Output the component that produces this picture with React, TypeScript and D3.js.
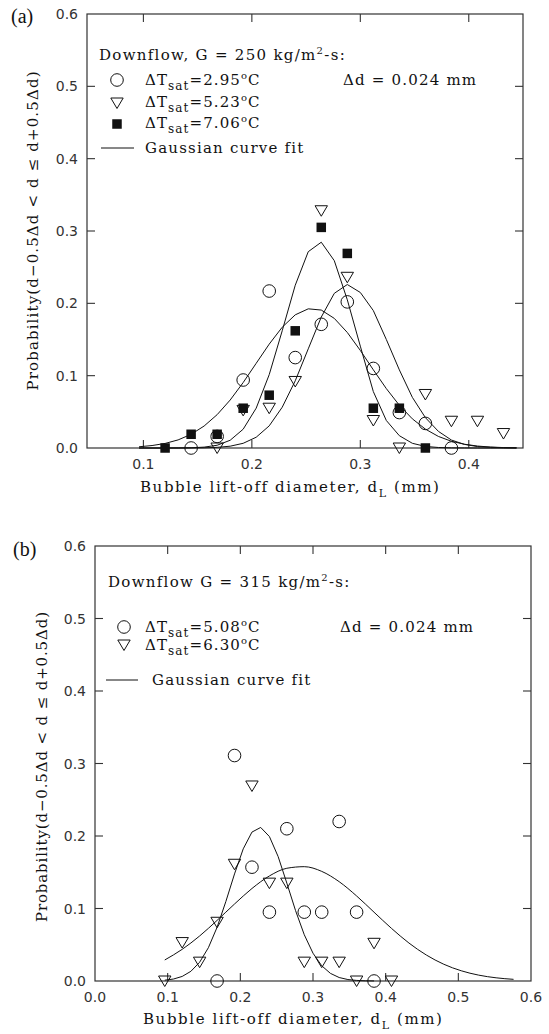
import React from "react";
import * as d3 from "d3";

// ---------- shared axis values ----------
const yTickValues = [0, 0.1, 0.2, 0.3, 0.4, 0.5, 0.6];
const yTickLabels = ["0.0", "0.1", "0.2", "0.3", "0.4", "0.5", "0.6"];

// ---------- panel (a): Downflow, G = 250 kg/m2-s ----------
const aXTickValues = [0.1, 0.2, 0.3, 0.4];
const aXTickLabels = ["0.1", "0.2", "0.3", "0.4"];

const aCircleX = [0.144, 0.168, 0.192, 0.216, 0.240, 0.264, 0.288, 0.312, 0.336, 0.360, 0.384];
const aCircleY = [0.0, 0.016, 0.094, 0.217, 0.125, 0.171, 0.202, 0.110, 0.049, 0.034, 0.0];

const aTriX = [0.168, 0.192, 0.216, 0.240, 0.264, 0.288, 0.312, 0.336, 0.360, 0.384, 0.408, 0.432];
const aTriY = [0.0, 0.052, 0.055, 0.092, 0.328, 0.236, 0.038, 0.0, 0.074, 0.037, 0.037, 0.020];

const aSquareX = [0.120, 0.144, 0.168, 0.192, 0.216, 0.240, 0.264, 0.288, 0.312, 0.336, 0.360];
const aSquareY = [0.0, 0.019, 0.019, 0.055, 0.073, 0.162, 0.305, 0.269, 0.055, 0.055, 0.0];

const aFitX = [0.096, 0.108, 0.120, 0.132, 0.144, 0.156, 0.168, 0.180, 0.192, 0.204, 0.216, 0.228, 0.240, 0.252, 0.264,
  0.276, 0.288, 0.300, 0.312, 0.324, 0.336, 0.348, 0.360, 0.372, 0.384, 0.396, 0.408, 0.420, 0.432, 0.444];
const aFitCircle = [0.0017, 0.0034, 0.0063, 0.0112, 0.0189, 0.0304, 0.0461, 0.0663, 0.0905, 0.1171, 0.1436, 0.1670, 0.1841, 0.1924, 0.1907,
  0.1792, 0.1597, 0.1349, 0.1081, 0.0821, 0.0591, 0.0403, 0.0261, 0.0160, 0.0093, 0.0052, 0.0027, 0.0013, 0.0006, 0.0003];
const aFitSquare = [0, 0, 0, 0.0001, 0.0003, 0.0012, 0.0038, 0.0107, 0.0260, 0.0551, 0.1014, 0.1621, 0.2250, 0.2714, 0.2845,
  0.2590, 0.2049, 0.1408, 0.0780, 0.0380, 0.0170, 0.0065, 0.0022, 0.0007, 0.0002, 0.0001, 0, 0, 0, 0];
const aFitTri = [0, 0, 0, 0, 0.0001, 0.0003, 0.0009, 0.0025, 0.0065, 0.0149, 0.0306, 0.0564, 0.0929, 0.1371, 0.1810,
  0.2138, 0.2260, 0.2150, 0.1900, 0.1500, 0.1080, 0.0700, 0.0420, 0.0230, 0.0110, 0.0050, 0.0020, 0.0010, 0.0004, 0.0001];

// ---------- panel (b): Downflow G = 315 kg/m2-s ----------
const bXTickValues = [0.0, 0.1, 0.2, 0.3, 0.4, 0.5, 0.6];
const bXTickLabels = ["0.0", "0.1", "0.2", "0.3", "0.4", "0.5", "0.6"];

const bCircleX = [0.168, 0.192, 0.216, 0.240, 0.264, 0.288, 0.312, 0.336, 0.360, 0.384];
const bCircleY = [0.0, 0.311, 0.157, 0.095, 0.210, 0.095, 0.095, 0.220, 0.095, 0.0];

const bTriX = [0.096, 0.120, 0.144, 0.168, 0.192, 0.216, 0.240, 0.264, 0.288, 0.312, 0.336, 0.360, 0.384, 0.408];
const bTriY = [0.0, 0.053, 0.026, 0.081, 0.161, 0.269, 0.135, 0.135, 0.026, 0.026, 0.026, 0.0, 0.052, 0.0];

const bFitNarrowX = [0.096, 0.108, 0.120, 0.132, 0.144, 0.156, 0.168, 0.180, 0.192, 0.204, 0.216, 0.228, 0.240,
  0.252, 0.264, 0.276, 0.288, 0.300, 0.312, 0.324, 0.336, 0.348, 0.360, 0.372, 0.384];
const bFitNarrowY = [0.0011, 0.0027, 0.0063, 0.0134, 0.0259, 0.0459, 0.0741, 0.1094, 0.1477, 0.1823, 0.2054, 0.2118, 0.1993,
  0.1717, 0.1350, 0.0971, 0.0638, 0.0383, 0.0210, 0.0105, 0.0048, 0.0020, 0.0008, 0.0003, 0.0001];

const bFitBroadX = [0.096, 0.120, 0.144, 0.168, 0.192, 0.216, 0.240, 0.264, 0.288, 0.312, 0.336, 0.360, 0.384,
  0.408, 0.432, 0.456, 0.480, 0.504, 0.528, 0.552, 0.576];
const bFitBroadY = [0.0290, 0.0437, 0.0621, 0.0836, 0.1062, 0.1276, 0.1449, 0.1555, 0.1577, 0.1512, 0.1370, 0.1173, 0.0949,
  0.0726, 0.0524, 0.0358, 0.0231, 0.0141, 0.0081, 0.0044, 0.0023];

// ---------- styling ----------
const SERIF = "'DejaVu Serif', serif";
const SANS = "'DejaVu Sans', sans-serif";
const TIMES = "'Liberation Serif', 'Times New Roman', serif";
const INK = "#111";
const TICK_LEN = 8;

type Scale = d3.ScaleLinear<number, number>;

function zip(xs: number[], ys: number[]): [number, number][] {
  return xs.map((x, i) => [x, ys[i]]);
}

function Axes(props: {
  x: Scale; y: Scale; xTicks: number[]; xLabels: string[]; yLabelsX: number;
}) {
  const { x, y, xTicks, xLabels } = props;
  const [x0, x1] = x.range();
  const [y0, y1] = y.range(); // y0 bottom, y1 top
  const innerX = xTicks.filter((v) => x(v) > x0 + 2 && x(v) < x1 - 2);
  const innerY = yTickValues.filter((v) => y(v) < y0 - 2 && y(v) > y1 + 2);
  return (
    <g>
      <rect x={x0} y={y1} width={x1 - x0} height={y0 - y1} fill="none" stroke="#333" strokeWidth={1.2} />
      {innerX.map((v, i) => (
        <g key={"xt" + i}>
          <line x1={x(v)} x2={x(v)} y1={y0} y2={y0 - TICK_LEN} stroke="#333" strokeWidth={1.1} />
          <line x1={x(v)} x2={x(v)} y1={y1} y2={y1 + TICK_LEN} stroke="#333" strokeWidth={1.1} />
        </g>
      ))}
      {innerY.map((v, i) => (
        <g key={"yt" + i}>
          <line x1={x0} x2={x0 + TICK_LEN} y1={y(v)} y2={y(v)} stroke="#333" strokeWidth={1.1} />
          <line x1={x1} x2={x1 - TICK_LEN} y1={y(v)} y2={y(v)} stroke="#333" strokeWidth={1.1} />
        </g>
      ))}
      {xTicks.map((v, i) => (
        <text key={"xl" + i} x={x(v)} y={y0 + 21} textAnchor="middle" fontFamily={SANS} fontSize={14} fill="#333">
          {xLabels[i]}
        </text>
      ))}
      {yTickValues.map((v, i) => (
        <text key={"yl" + i} x={props.yLabelsX} y={y(v)} dy="0.36em" textAnchor="end" fontFamily={SANS} fontSize={14} fill="#333">
          {yTickLabels[i]}
        </text>
      ))}
    </g>
  );
}

function Circles({ x, y, xs, ys }: { x: Scale; y: Scale; xs: number[]; ys: number[] }) {
  return (
    <g>
      {xs.map((v, i) => (
        <circle key={i} cx={x(v)} cy={y(ys[i])} r={6.3} fill="none" stroke={INK} strokeWidth={1} />
      ))}
    </g>
  );
}

function triPath(cx: number, cy: number) {
  return `M${cx - 6.2},${cy - 5} L${cx + 6.2},${cy - 5} L${cx},${cy + 5.5} Z`;
}

function Triangles({ x, y, xs, ys }: { x: Scale; y: Scale; xs: number[]; ys: number[] }) {
  return (
    <g>
      {xs.map((v, i) => (
        <path key={i} d={triPath(x(v), y(ys[i]))} fill="none" stroke={INK} strokeWidth={1} />
      ))}
    </g>
  );
}

function Squares({ x, y, xs, ys }: { x: Scale; y: Scale; xs: number[]; ys: number[] }) {
  const s = 9.5;
  return (
    <g>
      {xs.map((v, i) => (
        <rect key={i} x={x(v) - s / 2} y={y(ys[i]) - s / 2} width={s} height={s} fill={INK} />
      ))}
    </g>
  );
}

function Curve({ x, y, xs, ys, smooth }: { x: Scale; y: Scale; xs: number[]; ys: number[]; smooth?: boolean }) {
  const line = d3
    .line<[number, number]>()
    .x((d) => x(d[0]))
    .y((d) => y(d[1]))
    .curve(smooth ? d3.curveMonotoneX : d3.curveLinear);
  return <path d={line(zip(xs, ys)) || ""} fill="none" stroke={INK} strokeWidth={1} />;
}

function DeltaT({ x, y, value }: { x: number; y: number; value: string }) {
  return (
    <text x={x} y={y} fontFamily={SERIF} fontSize={15} letterSpacing={1.1} fill={INK}>
      ΔT
      <tspan dy={5} fontSize={12}>sat</tspan>
      <tspan dy={-5}>={value}</tspan>
      <tspan dy={-6} fontSize={10}>o</tspan>
      <tspan dy={6}>C</tspan>
    </text>
  );
}

function Header({ x, y, text, g }: { x: number; y: number; text: string; g: string }) {
  return (
    <text x={x} y={y} fontFamily={SERIF} fontSize={15} letterSpacing={1.3} fill={INK}>
      {text} G = {g} kg/m
      <tspan dy={-6} fontSize={10}>2</tspan>
      <tspan dy={6}>-s:</tspan>
    </text>
  );
}

function XLabel({ x, y }: { x: number; y: number }) {
  return (
    <text x={x} y={y} fontFamily={SERIF} fontSize={15} letterSpacing={1.6} fill={INK}>
      Bubble lift-off diameter, d
      <tspan dy={5} fontSize={11}>L</tspan>
      <tspan dy={-5}> (mm)</tspan>
    </text>
  );
}

function YLabel({ x, y, len }: { x: number; y: number; len: number }) {
  return (
    <text
      transform={`translate(${x},${y}) rotate(-90)`}
      textAnchor="middle"
      fontFamily={SERIF}
      fontSize={15}
      textLength={len}
      lengthAdjust="spacing"
      fill={INK}
    >
      Probability(d−0.5Δd {"<"} d ≤ d+0.5Δd)
    </text>
  );
}

export default function App() {
  // panel (a) scales
  const xa = d3.scaleLinear().domain([0.048, 0.45]).range([87, 523]);
  const ya = d3.scaleLinear().domain([0, 0.6]).range([448, 14]);
  // panel (b) scales
  const xb = d3.scaleLinear().domain([0, 0.6]).range([95, 531]);
  const yb = d3.scaleLinear().domain([0, 0.6]).range([981, 546]);

  return (
    <svg
      width={549}
      height={1034}
      viewBox="0 0 549 1034"
      style={{ position: "absolute", left: 0, top: 0, background: "#fff" }}
    >
      <rect x={0} y={0} width={549} height={1034} fill="#fff" />

      {/* ================= panel (a) ================= */}
      <text x={11} y={23} fontFamily={TIMES} fontSize={20} fill={INK}>(a)</text>
      <Axes x={xa} y={ya} xTicks={aXTickValues} xLabels={aXTickLabels} yLabelsX={78} />
      <YLabel x={38} y={231} len={319} />
      <XLabel x={140} y={492} />

      <Header x={99} y={60} text="Downflow," g="250" />
      <circle cx={117} cy={80} r={6.3} fill="none" stroke={INK} />
      <DeltaT x={145} y={85} value="2.95" />
      <path d={triPath(117, 103)} fill="none" stroke={INK} />
      <DeltaT x={145} y={107} value="5.23" />
      <rect x={117 - 4.75} y={124 - 4.75} width={9.5} height={9.5} fill={INK} />
      <DeltaT x={145} y={128} value="7.06" />
      <line x1={101} x2={134} y1={148} y2={148} stroke={INK} />
      <text x={145} y={153} fontFamily={SERIF} fontSize={15} letterSpacing={1.2} fill={INK}>Gaussian curve fit</text>
      <text x={343} y={85} fontFamily={SERIF} fontSize={15} letterSpacing={1.2} fill={INK}>Δd = 0.024 mm</text>

      <Curve x={xa} y={ya} xs={aFitX} ys={aFitCircle} />
      <Curve x={xa} y={ya} xs={aFitX} ys={aFitSquare} />
      <Curve x={xa} y={ya} xs={aFitX} ys={aFitTri} />
      <Circles x={xa} y={ya} xs={aCircleX} ys={aCircleY} />
      <Triangles x={xa} y={ya} xs={aTriX} ys={aTriY} />
      <Squares x={xa} y={ya} xs={aSquareX} ys={aSquareY} />

      {/* ================= panel (b) ================= */}
      <text x={13} y={556} fontFamily={TIMES} fontSize={20} fill={INK}>(b)</text>
      <Axes x={xb} y={yb} xTicks={bXTickValues} xLabels={bXTickLabels} yLabelsX={86} />
      <YLabel x={47} y={767} len={310} />
      <XLabel x={143} y={1024} />

      <Header x={108} y={587} text="Downflow" g="315" />
      <circle cx={124} cy={627} r={6.3} fill="none" stroke={INK} />
      <DeltaT x={145} y={632} value="5.08" />
      <path d={triPath(124, 645)} fill="none" stroke={INK} />
      <DeltaT x={145} y={650} value="6.30" />
      <line x1={106} x2={138} y1={680} y2={680} stroke={INK} />
      <text x={152} y={685} fontFamily={SERIF} fontSize={15} letterSpacing={1.2} fill={INK}>Gaussian curve fit</text>
      <text x={340} y={632} fontFamily={SERIF} fontSize={15} letterSpacing={1.2} fill={INK}>Δd = 0.024 mm</text>

      <Curve x={xb} y={yb} xs={bFitNarrowX} ys={bFitNarrowY} />
      <Curve x={xb} y={yb} xs={bFitBroadX} ys={bFitBroadY} smooth />
      <Circles x={xb} y={yb} xs={bCircleX} ys={bCircleY} />
      <Triangles x={xb} y={yb} xs={bTriX} ys={bTriY} />
    </svg>
  );
}
